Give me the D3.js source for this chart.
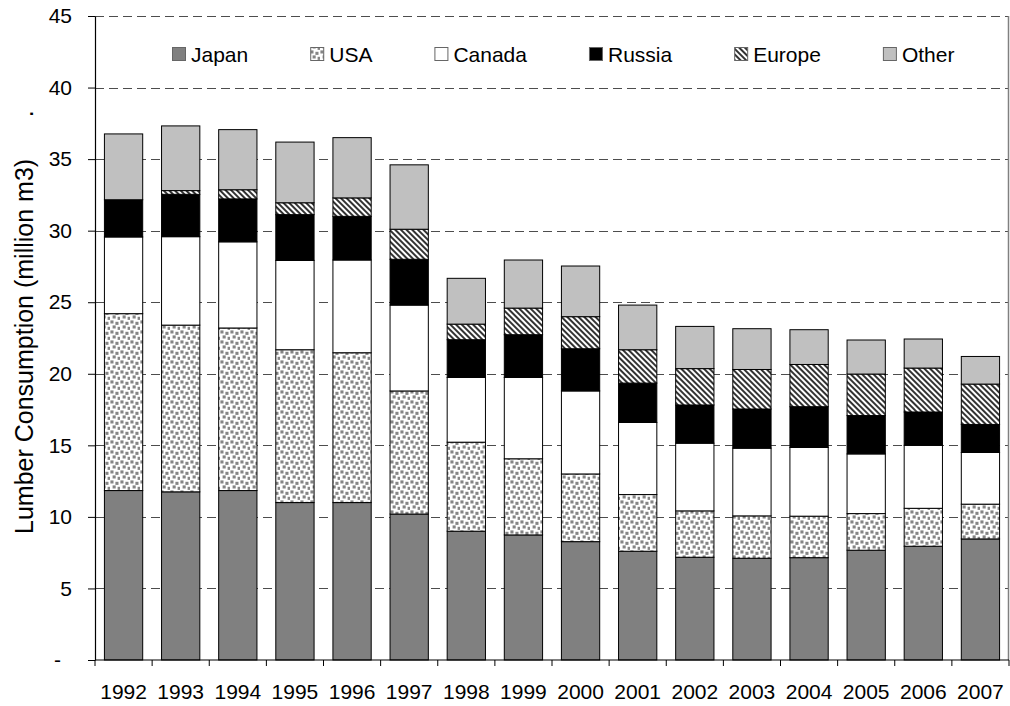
<!DOCTYPE html>
<html><head><meta charset="utf-8">
<script src="https://cdn.jsdelivr.net/npm/d3@7/dist/d3.min.js"></script>
<style>
body{margin:0;background:#fff}
text{font-family:"Liberation Sans",Arial,Helvetica,sans-serif;fill:#000}
</style>
</head><body>
<svg id="chart" width="1010" height="706"></svg>
<script>
// ---- data ----
const years = ["1992","1993","1994","1995","1996","1997","1998","1999","2000","2001","2002","2003","2004","2005","2006","2007"];
const seriesNames = ["Japan","USA","Canada","Russia","Europe","Other"];
const japan  = [11.84,11.75,11.84,11.00,11.00,10.20,9.00,8.74,8.27,7.60,7.18,7.11,7.15,7.67,7.95,8.46];
const usa    = [12.36,11.65,11.36,10.68,10.47,8.60,6.22,5.32,4.73,3.96,3.24,2.96,2.90,2.56,2.65,2.43];
const canada = [5.36,6.18,6.02,6.24,6.48,6.00,4.52,5.68,5.80,5.04,4.73,4.73,4.80,4.17,4.40,3.61];
const russia = [2.60,2.96,3.00,3.20,3.05,3.20,2.64,2.99,2.95,2.75,2.67,2.74,2.85,2.68,2.33,1.96];
const europe = [0.00,0.26,0.64,0.83,1.29,2.10,1.09,1.86,2.24,2.33,2.54,2.76,2.95,2.90,3.07,2.82];
const other  = [4.60,4.52,4.20,4.24,4.21,4.50,3.20,3.36,3.54,3.12,2.95,2.85,2.43,2.38,2.03,1.93];
const yTicks = [0,5,10,15,20,25,30,35,40,45];
const yTitle = "Lumber Consumption (million m3)      .";

// ---- layout ----
const plot = {left: 95, right: 1009, top: 16, bottom: 660};
const FS = 21;
const svg = d3.select("#chart");

// patterns
const defs = svg.append("defs");
const dots = defs.append("pattern").attr("id","pUSA").attr("patternUnits","userSpaceOnUse")
  .attr("width",10).attr("height",10);
dots.append("rect").attr("width",10).attr("height",10).attr("fill","#fff");
[[0.4,0.4],[5.4,1.8],[2.6,5.4],[7.6,6.8]].forEach(p=>{
  dots.append("rect").attr("x",p[0]).attr("y",p[1]).attr("width",3.1).attr("height",3.1).attr("fill","#858585");
});
const hatch = defs.append("pattern").attr("id","pEU").attr("patternUnits","userSpaceOnUse")
  .attr("width",4).attr("height",4).attr("patternTransform","rotate(-45)");
hatch.append("rect").attr("width",4).attr("height",4).attr("fill","#fff");
hatch.append("rect").attr("width",2).attr("height",4).attr("fill","#333");

const fills = {Japan:"#808080", USA:"url(#pUSA)", Canada:"#ffffff", Russia:"#000000", Europe:"url(#pEU)", Other:"#c0c0c0"};

const x = d3.scaleBand().domain(years).range([plot.left, plot.right]).paddingInner(0.33).paddingOuter(0.165);
const y = d3.scaleLinear().domain([0,45]).range([plot.bottom, plot.top]);

// gridlines
svg.append("g").selectAll("line").data(yTicks.filter(v=>v>0)).join("line")
  .attr("x1",plot.left).attr("x2",plot.right)
  .attr("y1",d=>Math.round(y(d))+0.5).attr("y2",d=>Math.round(y(d))+0.5)
  .attr("stroke","#4d4d4d").attr("stroke-width",1).attr("stroke-dasharray","9,5");

// right border
svg.append("line").attr("x1",plot.right-0.5).attr("x2",plot.right-0.5)
  .attr("y1",y(45)).attr("y2",y(0)).attr("stroke","#808080").attr("stroke-width",1.5);

// stacked bars
const table = years.map((yr,i)=>({year:yr, Japan:japan[i], USA:usa[i], Canada:canada[i], Russia:russia[i], Europe:europe[i], Other:other[i]}));
const stack = d3.stack().keys(seriesNames)(table);
svg.append("g").selectAll("g").data(stack).join("g")
  .attr("fill",d=>fills[d.key])
  .selectAll("rect").data(d=>d.filter(s=>s[1]-s[0]>0)).join("rect")
  .attr("x",d=>x(d.data.year)).attr("width",x.bandwidth())
  .attr("y",d=>y(d[1])).attr("height",d=>y(d[0])-y(d[1]))
  .attr("stroke","#000").attr("stroke-width",1);

// y axis
const yAxis = d3.axisLeft(y).tickValues(yTicks).tickSize(7).tickSizeOuter(0).tickPadding(16)
  .tickFormat(v=>v===0?"-":String(v));
const ga = svg.append("g").attr("transform",`translate(${plot.left},0)`).call(yAxis);
ga.select(".domain").attr("stroke","#000").attr("stroke-width",1.2);
ga.selectAll(".tick line").attr("stroke","#000");
ga.selectAll(".tick text").attr("font-size",FS).attr("font-family","Liberation Sans, Arial, sans-serif").attr("fill","#000");
ga.selectAll(".tick text").filter(d=>d===0).attr("dx",-11);

// x axis
svg.append("line").attr("x1",plot.left).attr("x2",plot.right).attr("y1",plot.bottom).attr("y2",plot.bottom)
  .attr("stroke","#000").attr("stroke-width",1.2);
const bounds = d3.range(years.length+1).map(i=>plot.left + i*x.step());
svg.append("g").selectAll("line").data(bounds).join("line")
  .attr("x1",d=>d).attr("x2",d=>d).attr("y1",plot.bottom).attr("y2",plot.bottom+6)
  .attr("stroke","#000");
svg.append("g").selectAll("text").data(years).join("text")
  .attr("x",d=>x(d)+x.bandwidth()/2).attr("y",699)
  .attr("text-anchor","middle").attr("font-size",FS).text(d=>d);

// y title
svg.append("text").attr("transform","translate(33,534) rotate(-90)")
  .attr("font-size",25).attr("text-anchor","start").style("white-space","pre").text(yTitle);

// legend
const lg = svg.append("g");
let lx = 172;
seriesNames.forEach(n=>{
  lg.append("rect").attr("x",lx+0.5).attr("y",47.5).attr("width",13).attr("height",13)
    .attr("fill",fills[n]).attr("stroke","#666").attr("stroke-width",1);
  const t = lg.append("text").attr("x",lx+19).attr("y",62).attr("font-size",FS).text(n);
  lx += 19 + t.node().getComputedTextLength() + 62;
});
</script>
</body></html>
